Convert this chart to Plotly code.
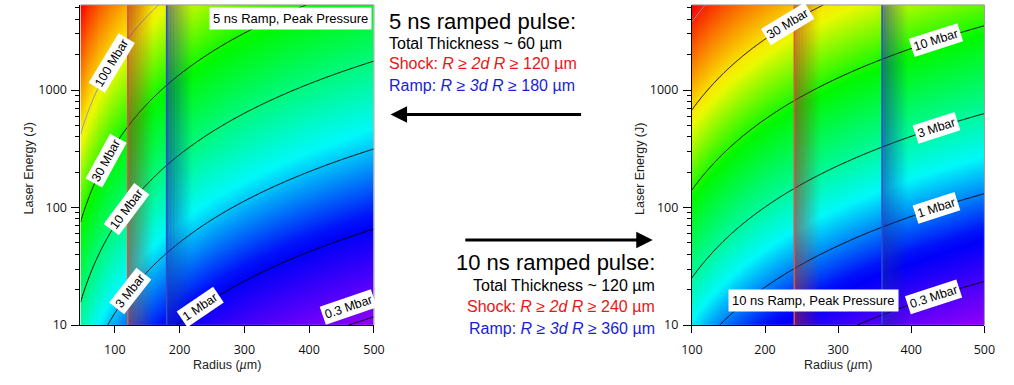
import colorsys
import numpy as np
import plotly.graph_objects as go

FIG_W, FIG_H = 1014, 385

# ---------------------------------------------------------------- data ----
pulse_ns = [5, 10]                 # ramp duration of each panel (ns)
thickness_um = [60, 120]           # total target thickness (µm)
shock_mult = 2                     # shock criterion  R >= 2d
ramp_mult = 3                      # ramp criterion   R >= 3d
radius_min = [47, 100]             # left end of each radius axis (µm)
radius_max = 500
radius_ticks = [100, 200, 300, 400, 500]
energy_min, energy_max = 10, 5300  # laser energy axis (J)
energy_ticks = [10, 100, 1000]
energy_minor = [m * 10 ** p for p in (1, 2, 3) for m in range(2, 10)]
energy_marks = [100, 1000]         # dashed reference energies (J)

pressure_levels = [0.3, 1, 3, 10, 30, 100]          # contour levels (Mbar)
level_text = ["0.3 Mbar", "1 Mbar", "3 Mbar", "10 Mbar", "30 Mbar", "100 Mbar"]
label_radius = [                                     # where each level is labelled (µm)
    [461, 232, 124, 118, 86, 95],
    [430, 434, 434, 434, 231, None],
]
panel_title = ["5 ns Ramp, Peak Pressure", "10 ns Ramp, Peak Pressure"]

# peak ablation pressure   P[Mbar] = P_COEF * (E / (tau * R^2)) ** P_EXP
P_COEF = 990.0
P_EXP = 0.7


def pressure(E, R, tau):
    return P_COEF * (E / (tau * R ** 2)) ** P_EXP


def energy_on_level(P, R, tau):
    return tau * R ** 2 * (P / P_COEF) ** (1.0 / P_EXP)


# ------------------------------------------------------------- layout ----
# plot boxes in pixels: (left, right) for each panel, common top/bottom
panel_px = [(71, 371), (696, 995)]
top_px, bot_px = 5, 332
ydom = [1 - bot_px / FIG_H, 1 - top_px / FIG_H]


def px(xp):
    return xp / FIG_W


def py(yp):
    return 1 - yp / FIG_H


# rainbow colour table on log pressure: purple (low) -> blue -> cyan ->
# green -> yellow -> orange -> red (high)
HUE_POS = [0.0, 0.2, 0.35, 0.45, 0.6, 0.76, 0.88, 1.0]
HUE_DEG = [275, 235, 180, 155, 120, 60, 30, 0]


def rainbow(n=41):
    stops = []
    for i in range(n):
        f = i / (n - 1)
        h = np.interp(f, HUE_POS, HUE_DEG) / 360.0
        r, g, b = colorsys.hsv_to_rgb(h, 1.0, 0.98)
        stops.append([f, f"rgb({int(r*255)},{int(g*255)},{int(b*255)})"])
    return stops


CSCALE = rainbow()

fig = go.Figure()
shapes = []
annotations = []

FONT = "Liberation Sans, Arial, sans-serif"
TICKFONT = dict(family="Open Sans, Arial, sans-serif", size=12.5, color="#111")

for k, tau in enumerate(pulse_ns):
    xa = "x" if k == 0 else "x2"
    ya = "y" if k == 0 else "y2"
    r0 = radius_min[k]
    R = np.linspace(r0, radius_max, 320)
    E = np.logspace(np.log10(energy_min), np.log10(energy_max), 320)
    RR, EE = np.meshgrid(R, E)
    logP = np.log10(pressure(EE, RR, tau))

    fig.add_trace(go.Heatmap(
        x=R, y=E, z=logP, colorscale=CSCALE, showscale=False,
        zsmooth="best", hoverinfo="skip", xaxis=xa, yaxis=ya))

    for lev in pressure_levels:
        lv = np.log10(lev)
        col = "rgb(125,145,205)" if lev >= 100 else "black"
        fig.add_trace(go.Contour(
            x=R, y=E, z=logP, showscale=False, hoverinfo="skip",
            contours=dict(start=lv, end=lv, size=1, coloring="none"),
            line=dict(color=col, width=1), xaxis=xa, yaxis=ya))

    # axis geometry in pixels, used for label angles and band widths
    xl, xr = panel_px[k]
    px_per_um = (xr - xl) / (radius_max - r0)
    px_per_dec = (bot_px - top_px) / (np.log10(energy_max) - np.log10(energy_min))

    # dashed reference energies
    for em in energy_marks:
        shapes.append(dict(type="line", xref=f"{xa} domain", yref=ya,
                           x0=0, x1=1, y0=np.log10(em), y1=np.log10(em),
                           line=dict(color="black", width=1.6, dash="dash"),
                           layer="above"))

    # shaded shock / ramp bands fading to the right of each criterion line
    fade_um = 27 / px_per_um
    nstrip = 18
    for mult, rgb, lc in [(shock_mult, (170, 40, 40), "rgb(225,85,70)"),
                          (ramp_mult, (25, 40, 170), "rgb(45,75,215)")]:
        rc = mult * thickness_um[k]
        for i in range(nstrip):
            t0 = i / nstrip
            a = 0.6 * (1 - (i + 0.5) / nstrip) ** 1.1
            shapes.append(dict(type="rect", xref=xa, yref=f"{ya} domain",
                               x0=rc + t0 * fade_um, x1=rc + (i + 1) / nstrip * fade_um,
                               y0=0, y1=1, line=dict(width=0),
                               fillcolor=f"rgba({rgb[0]},{rgb[1]},{rgb[2]},{a:.3f})",
                               layer="above"))
        shapes.append(dict(type="line", xref=xa, yref=f"{ya} domain",
                           x0=rc, x1=rc, y0=0, y1=1,
                           line=dict(color=lc, width=1.5), layer="above"))

    # thin grey frame on the top and right edges
    shapes.append(dict(type="line", xref=f"{xa} domain", yref=f"{ya} domain",
                       x0=0, x1=1, y0=1, y1=1, line=dict(color="#999", width=1),
                       layer="above"))
    shapes.append(dict(type="line", xref=f"{xa} domain", yref=f"{ya} domain",
                       x0=1, x1=1, y0=0, y1=1, line=dict(color="#999", width=1),
                       layer="above"))

    # contour labels, rotated along each curve; kept clear of the bottom edge
    lowest = np.log10(energy_min) + 0.15
    for lev, txt, rl in zip(pressure_levels, level_text, label_radius[k]):
        if rl is None:
            continue
        el = energy_on_level(lev, rl, tau)
        slope = 2.0 / (rl * np.log(10)) * px_per_dec / px_per_um
        ang = np.degrees(np.arctan(slope))
        annotations.append(dict(
            x=rl, y=max(np.log10(el), lowest), xref=xa, yref=ya, text=txt,
            showarrow=False, xanchor="center", yanchor="middle",
            textangle=-ang, bgcolor="white", borderpad=2,
            font=dict(family=FONT, size=12.5, color="black")))

    # axis titles
    xc = (xl + xr) / 2
    annotations.append(dict(x=px(xc), y=py(373), xref="paper", yref="paper",
                            xanchor="center", yanchor="middle",
                            text="Radius (<i>µ</i>m)", showarrow=False,
                            font=dict(family=FONT, size=12.5, color="#222")))
    annotations.append(dict(x=px(xl - 53), y=py((top_px + bot_px) / 2 + 4),
                            xref="paper", yref="paper", text="Laser Energy (J)",
                            xanchor="center", yanchor="middle",
                            textangle=-90, showarrow=False,
                            font=dict(family=FONT, size=12.5, color="#222")))

# panel captions
annotations.append(dict(x=px(286), y=py(19), xref="paper", yref="paper",
                        xanchor="center", yanchor="middle",
                        text=panel_title[0], showarrow=False, bgcolor="white",
                        borderpad=3, font=dict(family=FONT, size=13, color="black")))
annotations.append(dict(x=px(820), y=py(307), xref="paper", yref="paper",
                        xanchor="center", yanchor="middle",
                        text=panel_title[1], showarrow=False, bgcolor="white",
                        borderpad=3, font=dict(family=FONT, size=13, color="black")))


# description blocks between the panels
def block(x, ys, anchor, k):
    d = thickness_um[k]
    lines = [
        (f"{pulse_ns[k]} ns ramped pulse:", 22, "black"),
        (f"Total Thickness ~ {d} µm", 16, "black"),
        (f"Shock: <i>R ≥ {shock_mult}d R</i> ≥ {shock_mult*d} µm", 16, "rgb(235,20,20)"),
        (f"Ramp: <i>R ≥ {ramp_mult}d R</i> ≥ {ramp_mult*d} µm", 16, "rgb(25,30,215)"),
    ]
    for (txt, size, col), yy in zip(lines, ys):
        annotations.append(dict(x=px(x), y=py(yy), xref="paper", yref="paper",
                                text=txt, showarrow=False, xanchor=anchor,
                                yanchor="middle",
                                font=dict(family=FONT, size=size, color=col)))


block(384, [22, 44, 65, 87], "left", 0)
block(660, [268, 292, 313, 335], "right", 1)

# arrows pointing to the matching panel
annotations.append(dict(x=px(388), y=py(117), xref="paper", yref="paper", text="",
                        showarrow=True, ax=192, ay=0, arrowhead=2, arrowsize=1.1,
                        arrowwidth=3, arrowcolor="black"))
annotations.append(dict(x=px(656), y=py(245), xref="paper", yref="paper", text="",
                        showarrow=True, ax=-189, ay=0, arrowhead=2, arrowsize=1.1,
                        arrowwidth=3, arrowcolor="black"))

axis_common = dict(showgrid=False, zeroline=False, showline=True, linecolor="black",
                   linewidth=1, ticks="outside", tickcolor="black", tickfont=TICKFONT)

layout_axes = {}
for k in range(2):
    xl, xr = panel_px[k]
    xn = "xaxis" if k == 0 else "xaxis2"
    yn = "yaxis" if k == 0 else "yaxis2"
    layout_axes[xn] = dict(axis_common, domain=[px(xl), px(xr)],
                           range=[radius_min[k], radius_max], tickvals=radius_ticks,
                           ticklen=7, ticklabelstandoff=6,
                           anchor="y" if k == 0 else "y2")
    layout_axes[yn] = dict(axis_common, domain=ydom, type="log",
                           range=[np.log10(energy_min), np.log10(energy_max)],
                           tickvals=energy_ticks, ticktext=[str(v) for v in energy_ticks],
                           ticklen=8, ticklabelstandoff=2,
                           minor=dict(tickmode="array", tickvals=energy_minor,
                                      ticks="outside", ticklen=4, tickcolor="black",
                                      showgrid=False),
                           anchor="x" if k == 0 else "x2")

fig.update_layout(
    width=FIG_W, height=FIG_H, margin=dict(l=0, r=0, t=0, b=0),
    paper_bgcolor="white", plot_bgcolor="white", showlegend=False,
    shapes=shapes, annotations=annotations, **layout_axes)

fig.write_html("out.html")
